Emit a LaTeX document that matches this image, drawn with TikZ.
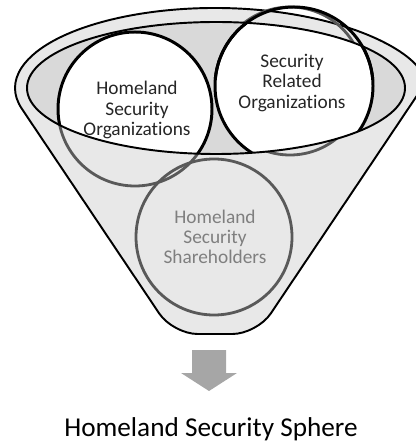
\documentclass[tikz,border=0pt]{standalone}
\usepackage{fontspec}
\setmainfont{Carlito}[Ligatures=NoCommon]
\usepackage{tikz}
\definecolor{FunnelGray}{HTML}{E8E8E8}
\definecolor{RimGray}{HTML}{D9D9D9}
\definecolor{RingGray}{HTML}{595959}
\definecolor{ArrowGray}{HTML}{A6A6A6}
\definecolor{TextGray}{HTML}{7F7F7F}
\definecolor{TextDark}{HTML}{262626}

\begin{document}
\begin{tikzpicture}[
  x=0.02cm, y=-0.02cm,
  rimline/.style={draw=black, line width=1.1pt},
  grayring/.style={draw=RingGray, line width=1.6pt},
  orgring/.style={draw=black, fill=white, line width=1.7pt},
  orgtext/.style={align=center, text=TextDark, inner sep=0pt, font=\fontsize{11}{11.5}\selectfont},
  arrowblock/.style={fill=ArrowGray}
]
\useasboundingbox (0,0) rectangle (415,445);

\coordinate (hsoc) at (135,109);
\coordinate (sroc) at (294,86);
\coordinate (srog) at (290,81);
\coordinate (hssc) at (214,237);

\draw[rimline, fill=FunnelGray] (21.81,108.71) [rounded corners=14] -- (173,334) -- (257,334) -- (408.19,108.71) [sharp corners] arc[start angle=15, end angle=-195, x radius=200, y radius=80] -- cycle;

\draw[grayring] (hssc) circle[radius=78];
\draw[grayring] (hsoc) circle[radius=77];
\draw[grayring] (srog) circle[radius=74];

\fill[RimGray] (216,88) ellipse[x radius=189, y radius=66];
\begin{scope}
  \clip (216,88) ellipse[x radius=189, y radius=66];
  \draw[orgring] (hsoc) circle[radius=77];
  \draw[orgring] (sroc) circle[radius=79];
\end{scope}
\begin{scope}
  \clip (0,0) rectangle (415,80);
  \draw[orgring, fill=none] (sroc) circle[radius=79];
\end{scope}
\draw[rimline] (216,88) ellipse[x radius=189, y radius=66];

\fill[arrowblock] (192,350) -- (226,350) -- (226,373) -- (237,373) -- (209,391) -- (181,373) -- (192,373) -- cycle;

\node[orgtext] (hso) at (137,110) {Homeland\\Security\\Organizations};
\node[orgtext] (sro) at (292,83) {Security\\Related\\Organizations};
\node[orgtext, text=TextGray] (hss) at (215,237) {Homeland\\Security\\Shareholders};
\node[inner sep=0pt, text=black, font=\fontsize{15.5}{18}\selectfont] (sphere) at (211,429) {Homeland Security Sphere};
\end{tikzpicture}
\end{document}
